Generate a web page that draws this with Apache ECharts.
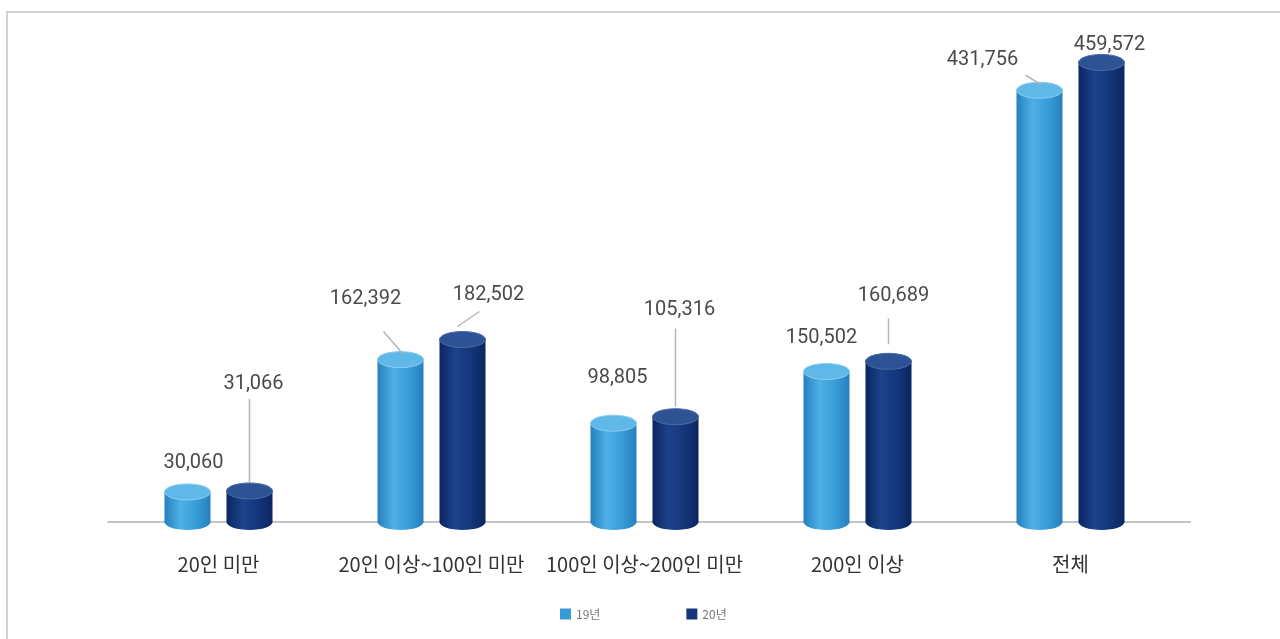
<!DOCTYPE html>
<html>
<head>
<meta charset="utf-8">
<script src="https://cdn.jsdelivr.net/npm/echarts@6/dist/echarts.min.js"></script>
<style>
  html, body { margin: 0; padding: 0; background: #fff; }
  #chart { width: 1280px; height: 639px; }
</style>
</head>
<body>
<div id="chart"></div>
<script>
// Workforce by company size, 2019 vs 2020
const categories = ['20인 미만', '20인 이상~100인 미만', '100인 이상~200인 미만', '200인 이상', '전체'];
const seriesNames = ['19년', '20년'];
const values19 = [30060, 162392, 98805, 150502, 431756];
const values20 = [31066, 182502, 105316, 160689, 459572];

// Label placement relative to the top of each cylinder (px)
const labelOffsets19 = [[6, -29], [-35, -61], [4, -45], [-5, -33], [-57, -30]];
const labelOffsets20 = [[4, -107], [26, -44], [4, -107], [5, -65], [8, -17]];
// Leader lines from label to cylinder top (px, relative to cylinder top)
const leaders19 = [null, [[-17, -28], [2, -6]], null, null, [[-14, -15], [1, -6]]];
const leaders20 = [[[0, -8], [0, -92]], [[-5, -13], [17, -28]], [[0, -10], [0, -88]], [[0, -17], [0, -43]], null];

const palettes = [
  { main: '#379bd7', edge: '#2580bd', light: '#4fb0e6', cap: '#5fb8e8', capEdge: '#8ccdf0' },
  { main: '#143579', edge: '#0b2660', light: '#1d438c', cap: '#2e5395', capEdge: '#4a6aa6' }
];

function fmt(v) { return v.toLocaleString('en-US'); }

function makeRenderer(seriesIdx, labelOffsets, leaders) {
  const pal = palettes[seriesIdx];
  return function (params, api) {
    const i = api.value(0);
    const v = api.value(1);
    const top = api.coord([i, v]);
    const base = api.coord([i, 0]);
    const shift = (seriesIdx === 0 ? -1 : 1) * 31;
    const cx = top[0] + shift;
    const w = 46, rx = 23, ry = 8;
    const ty = top[1], by = base[1];
    const bodyFill = new echarts.graphic.LinearGradient(0, 0, 1, 0, [
      { offset: 0, color: pal.edge },
      { offset: 0.35, color: pal.light },
      { offset: 0.7, color: pal.main },
      { offset: 1, color: pal.edge }
    ]);
    const children = [
      { type: 'ellipse', shape: { cx: cx, cy: by, rx: rx, ry: ry }, style: { fill: bodyFill } },
      { type: 'rect', shape: { x: cx - rx, y: ty, width: w, height: by - ty }, style: { fill: bodyFill } },
      { type: 'ellipse', shape: { cx: cx, cy: ty, rx: rx, ry: ry },
        style: { fill: pal.cap, stroke: pal.capEdge, lineWidth: 1 } }
    ];
    const ld = leaders[i];
    if (ld) {
      children.push({
        type: 'line',
        shape: { x1: cx + ld[0][0], y1: ty + ld[0][1], x2: cx + ld[1][0], y2: ty + ld[1][1] },
        style: { stroke: '#b5b5b5', lineWidth: 1.5 }
      });
    }
    const off = labelOffsets[i];
    children.push({
      type: 'text',
      x: cx + off[0], y: ty + off[1],
      style: {
        text: fmt(v), fill: '#4a4a4a', fontSize: 20, fontFamily: 'Roboto',
        align: 'center', verticalAlign: 'middle'
      }
    });
    return { type: 'group', children: children };
  };
}

const chart = echarts.init(document.getElementById('chart'), null, { renderer: 'canvas' });
chart.setOption({
  backgroundColor: '#ffffff',
  animation: false,
  graphic: [{
    type: 'rect', z: -10, silent: true,
    shape: { x: 7, y: 12, width: 1320, height: 700 },
    style: { fill: 'none', stroke: '#d2d2d2', lineWidth: 2 }
  }],
  grid: [
    { left: 112, right: 103, top: 22, bottom: 117 },
    { left: 108, right: 90, top: 22, bottom: 117 }
  ],
  legend: {
    left: 555, top: 603, itemWidth: 11, itemHeight: 11, itemGap: 86, icon: 'rect',
    data: seriesNames,
    textStyle: { color: '#777', fontSize: 12, fontFamily: 'Noto Sans CJK KR' }
  },
  xAxis: [
    {
      type: 'category', data: categories, gridIndex: 0,
      axisLine: { show: false }, axisTick: { show: false },
      axisLabel: { margin: 32, fontSize: 20, color: '#333', fontFamily: 'Noto Sans CJK KR', interval: 0 }
    },
    {
      type: 'category', data: categories, gridIndex: 1,
      axisLine: { show: true, lineStyle: { color: '#c4c4c4', width: 2 } },
      axisTick: { show: false }, axisLabel: { show: false }
    }
  ],
  yAxis: [
    { type: 'value', min: 0, max: 500000, gridIndex: 0, show: false },
    { type: 'value', min: 0, max: 500000, gridIndex: 1, show: false }
  ],
  series: [
    {
      name: seriesNames[0], type: 'custom', z: 5,
      xAxisIndex: 0, yAxisIndex: 0,
      itemStyle: { color: '#379bd7' },
      encode: { x: 0, y: 1 },
      renderItem: makeRenderer(0, labelOffsets19, leaders19),
      data: values19.map((v, i) => [i, v])
    },
    {
      name: seriesNames[1], type: 'custom', z: 5,
      xAxisIndex: 0, yAxisIndex: 0,
      itemStyle: { color: '#143579' },
      encode: { x: 0, y: 1 },
      renderItem: makeRenderer(1, labelOffsets20, leaders20),
      data: values20.map((v, i) => [i, v])
    }
  ]
});
</script>
</body>
</html>
